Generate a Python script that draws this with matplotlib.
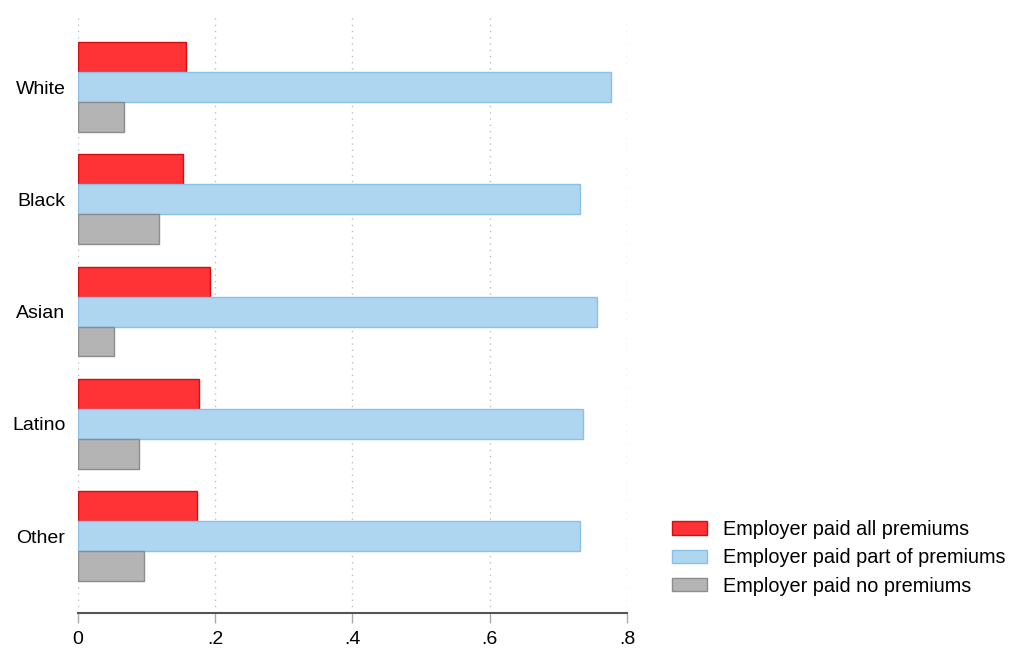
import numpy as np
import matplotlib
matplotlib.use('Agg')
import matplotlib.pyplot as plt
from matplotlib.patches import Patch

plt.rcParams['font.family'] = ['Liberation Sans', 'DejaVu Sans']

groups = ['White', 'Black', 'Asian', 'Latino', 'Other']
paid_all = [0.158, 0.153, 0.193, 0.176, 0.174]
paid_part = [0.776, 0.731, 0.756, 0.736, 0.731]
paid_none = [0.067, 0.118, 0.053, 0.089, 0.096]
series_labels = ['Employer paid all premiums', 'Employer paid part of premiums',
                 'Employer paid no premiums']
xticks = [0, 0.2, 0.4, 0.6, 0.8]
xtick_labels = ['0', '.2', '.4', '.6', '.8']

fills = ['#ff3236', '#aed6f1', '#b4b4b4']
edges = ['#d01010', '#8cc0e6', '#8c8c8c']

fig = plt.figure(figsize=(10.19, 6.48), dpi=100)
ax = fig.add_axes([0.0765, 0.0545, 0.5388, 0.9255])

pos = np.arange(len(groups))
h = 0.267
for k, vals in enumerate([paid_all, paid_part, paid_none]):
    ax.barh(pos + (k - 1) * h, vals, height=h, color=fills[k],
            edgecolor=edges[k], linewidth=1.0, zorder=3)

ax.set_ylim(4.683, -0.66)
ax.set_xlim(0, 0.8)
ax.set_yticks(pos)
ax.set_yticklabels(groups, fontsize=14)
ax.tick_params(axis='y', length=0, pad=9)
ax.set_xticks(xticks)
ax.set_xticklabels(xtick_labels, fontsize=14)
ax.tick_params(axis='x', length=7.2, width=1, color='#aaaaaa', pad=6)
for v in xticks:
    ax.axvline(v, color='#c0c0c0', linestyle=(0, (1, 3.5)), linewidth=1, zorder=1)
for s in ['top', 'right', 'left']:
    ax.spines[s].set_visible(False)
ax.spines['bottom'].set_color('#555555')
ax.spines['bottom'].set_linewidth(1.5)
ax.spines['bottom'].set_bounds(0, 0.8)

handles = [Patch(facecolor=fills[k], edgecolor=edges[k], label=series_labels[k])
           for k in range(3)]
fig.legend(handles=handles, loc='upper left', bbox_to_anchor=(0.659, 0.1975),
           frameon=False, fontsize=14.3, handlelength=1.8, handleheight=0.66,
           handletextpad=0.8, labelspacing=0.47, borderpad=0, borderaxespad=0)

fig.savefig('out.png', dpi=100)
